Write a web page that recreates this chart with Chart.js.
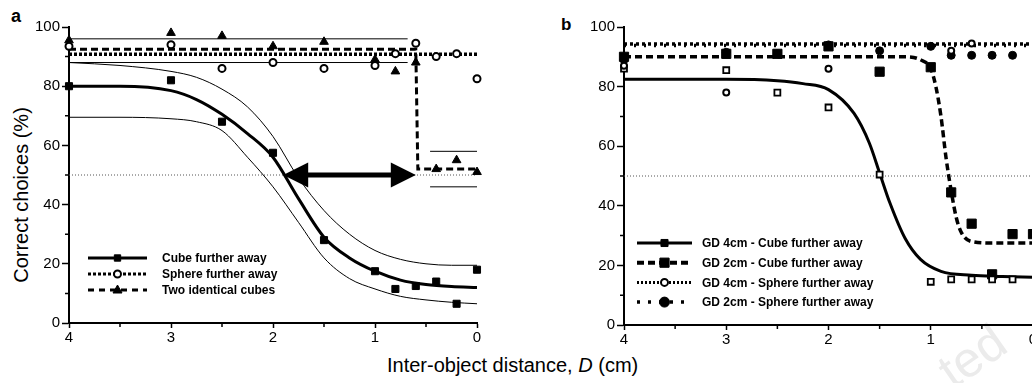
<!DOCTYPE html>
<html>
<head>
<meta charset="utf-8">
<script src="https://cdn.jsdelivr.net/npm/chart.js@4/dist/chart.umd.min.js"></script>
<style>
body { margin: 0; width: 1032px; height: 383px; overflow: hidden; background: #fff; position: relative; font-family: "Liberation Sans", Arial, sans-serif; color: #000; }
#wa { position: absolute; left: 0; top: 0; width: 500px; height: 383px; }
#wb { position: absolute; left: 530px; top: 0; width: 520px; height: 383px; }
.lab { position: absolute; font-weight: bold; line-height: 1; }
#xt { position: absolute; left: 387px; top: 355px; font-size: 20px; line-height: 20px; white-space: nowrap; }
#yt { position: absolute; left: 21px; top: 195px; font-size: 20px; line-height: 20px; white-space: nowrap; transform: translate(-50%, -50%) rotate(-90deg); }
#wm { position: absolute; left: 972px; top: 356px; font-size: 50px; line-height: 50px; color: #ebebeb; white-space: nowrap; transform: translate(-50%, -50%) rotate(-35deg); }
</style>
</head>
<body>
<div id="wm">ted</div>
<div class="lab" style="left:11px;top:7px;font-size:18px">a</div>
<div class="lab" style="left:561px;top:16px;font-size:17px">b</div>
<div id="yt">Correct choices (%)</div>
<div id="xt">Inter-object distance, <i>D</i> (cm)</div>
<div id="wa"><canvas id="chartA"></canvas></div>
<div id="wb"><canvas id="chartB"></canvas></div>
<script>
var FONT = '"Liberation Sans", Arial, sans-serif';

var dTicks = [4, 3, 2, 1, 0];
var dMinor = [3.5, 2.5, 1.5, 0.5];
var yTicks = [0, 20, 40, 60, 80, 100];
var yMinor = [10, 30, 50, 70, 90];
var chanceD = [4, 0];
var chanceY = [50, 50];

// panel a - measured points
var aD = [4, 3, 2.5, 2, 1.5, 1, 0.8, 0.6, 0.4, 0.2, 0];
var cubeY = [80, 82, 68, 57.5, 28, 17.5, 11.5, 12.5, 14, 6.5, 18];
var sphereY = [93.5, 94, 86, 88, 86, 87, 91, 94.5, 90, 91, 82.5];
var identY = [95.5, 98, 97, 93.5, 95, 89, 85, 88, 52, 55, 51];

// panel a - fitted curves and intervals
var cubeFitD = [4, 3.5, 3, 2.75, 2.5, 2.25, 2, 1.75, 1.5, 1.25, 1, 0.75, 0.5, 0.25, 0];
var cubeFitY = [80, 80, 78.5, 75.5, 70.5, 64, 56, 42, 29, 22, 17.5, 14.5, 13, 12.3, 12];
var cubeHiY = [88, 87, 85, 83, 79, 73, 63, 49, 38, 30, 24.5, 21.5, 20, 19.5, 19.5];
var cubeLoY = [69.5, 69.5, 69, 68, 65, 56, 46, 34, 22, 15, 11.5, 9, 7.8, 7, 6.5];
var sphereFitD = [4, 0];
var sphereFitY = [90.8, 90.8];
var identFitD = [4, 0.6, 0.58, 0];
var identFitY = [92.5, 92.5, 52, 52];
var identHiD = [4, 0.68];
var identHiY = [96, 96];
var identLoY = [88, 88];
var identHi2D = [0.46, 0];
var identHi2Y = [58, 58];
var identLo2Y = [46, 46];
var arrowD = [1.9, 0.6];
var arrowY = 50;
var legendA = ['Cube further away', 'Sphere further away', 'Two identical cubes'];

// panel b - measured points
var gd4CubeD = [4, 3, 2.5, 2, 1.5, 1, 0.8, 0.6, 0.4, 0.2];
var gd4CubeY = [86, 85.5, 78, 73, 50.5, 14.5, 15.3, 15.3, 15.3, 15.3];
var gd2CubeD = [4, 3, 2.5, 2, 1.5, 1, 0.8, 0.6, 0.4, 0.2, 0];
var gd2CubeY = [90, 91, 91, 93.5, 85, 86.5, 44.5, 34, 17, 30.5, 30.5];
var gd4SphD = [4, 3, 2, 0.8, 0.6];
var gd4SphY = [87, 78, 86, 92, 94.5];
var gd2SphD = [4, 3, 2.5, 2, 1.5, 1, 0.8, 0.6, 0.4, 0.2];
var gd2SphY = [89, 91.5, 91, 94, 92, 93.5, 90.5, 90.5, 90.5, 90.5];

// panel b - fitted curves
var gd4CubeFitD = [4, 3, 2.5, 2.25, 2, 1.75, 1.6, 1.5, 1.4, 1.25, 1.1, 0.9, 0.6, 0.3, 0];
var gd4CubeFitY = [82.5, 82.5, 82, 81, 79, 71, 61, 51, 41, 29, 22, 18, 16.7, 16.3, 16];
var gd2CubeFitD = [4, 1.25, 1.1, 1, 0.95, 0.9, 0.85, 0.8, 0.75, 0.7, 0.6, 0.4, 0];
var gd2CubeFitY = [90, 90, 89, 86, 80, 70, 56, 45, 36, 31, 28, 27.5, 27.5];
var gd4SphFitD = [4, 0];
var gd4SphFitY = [94.3, 94.3];
var gd2SphFitY = [93.8, 93.8];
var legendB = ['GD 4cm - Cube further away', 'GD 2cm - Cube further away', 'GD 4cm - Sphere further away', 'GD 2cm - Sphere further away'];

function pts(D, Y) {
	return D.map(function (d, i) { return { x: d, y: Y[i] }; });
}

function curve(D, Y, width, dash, smooth, color) {
	return {
		data: pts(D, Y),
		borderColor: color || '#000',
		borderWidth: width,
		borderDash: dash || [],
		pointRadius: 0,
		cubicInterpolationMode: smooth ? 'monotone' : 'default',
		fill: false,
		clip: false
	};
}

function marks(D, Y, style, r, filled, bw) {
	return {
		data: pts(D, Y),
		showLine: false,
		pointStyle: style,
		pointRadius: r,
		pointBackgroundColor: filled ? '#000' : '#fff',
		pointBorderColor: '#000',
		pointBorderWidth: bw || 1,
		clip: false
	};
}

function drawMarker(ctx, m, x, y) {
	ctx.save();
	ctx.fillStyle = m.fill ? '#000' : '#fff';
	ctx.strokeStyle = '#000';
	ctx.lineWidth = m.bw || 1;
	ctx.setLineDash([]);
	ctx.beginPath();
	if (m.style === 'rect') {
		var s = m.r * Math.SQRT1_2;
		ctx.rect(x - s, y - s, 2 * s, 2 * s);
	} else if (m.style === 'triangle') {
		ctx.moveTo(x, y - m.r);
		ctx.lineTo(x + m.r * 0.9, y + m.r * 0.6);
		ctx.lineTo(x - m.r * 0.9, y + m.r * 0.6);
		ctx.closePath();
	} else {
		ctx.arc(x, y, m.r, 0, Math.PI * 2);
	}
	ctx.fill();
	ctx.stroke();
	ctx.restore();
}

var insideLegend = {
	id: 'insideLegend',
	afterDraw: function (chart, args, opts) {
		var ctx = chart.ctx;
		ctx.save();
		ctx.font = 'bold 12px ' + FONT;
		ctx.textBaseline = 'middle';
		opts.items.forEach(function (it, i) {
			var y = opts.top + i * opts.gap;
			ctx.strokeStyle = '#000';
			ctx.lineWidth = it.width;
			ctx.setLineDash(it.dash);
			ctx.beginPath();
			ctx.moveTo(opts.left, y);
			ctx.lineTo(opts.left + opts.len, y);
			ctx.stroke();
			drawMarker(ctx, it.marker, opts.left + opts.len / 2, y);
			ctx.fillStyle = '#000';
			ctx.fillText(opts.labels[i], opts.left + opts.len + opts.pad, y + 1);
		});
		ctx.restore();
	}
};

var minorTicks = {
	id: 'minorTicks',
	afterDraw: function (chart) {
		var ctx = chart.ctx, xs = chart.scales.x, ys = chart.scales.y;
		ctx.save();
		ctx.strokeStyle = '#000';
		ctx.lineWidth = 1.5;
		ctx.beginPath();
		dMinor.forEach(function (d) {
			var px = xs.getPixelForValue(d);
			ctx.moveTo(px, xs.top);
			ctx.lineTo(px, xs.top + 4);
		});
		yMinor.forEach(function (v) {
			var py = ys.getPixelForValue(v);
			ctx.moveTo(ys.right, py);
			ctx.lineTo(ys.right - 4, py);
		});
		ctx.stroke();
		ctx.restore();
	}
};

var arrowPlugin = {
	id: 'arrow',
	afterDatasetsDraw: function (chart) {
		if (!chart.options.plugins.arrow.show) return;
		var xs = chart.scales.x, ys = chart.scales.y, ctx = chart.ctx;
		var x1 = xs.getPixelForValue(arrowD[0]);
		var x2 = xs.getPixelForValue(arrowD[1]);
		var y = ys.getPixelForValue(arrowY);
		var hl = 25, hw = 12.5;
		ctx.save();
		ctx.fillStyle = '#000';
		ctx.strokeStyle = '#000';
		ctx.lineWidth = 5;
		ctx.beginPath();
		ctx.moveTo(x1 + hl - 2, y);
		ctx.lineTo(x2 - hl + 2, y);
		ctx.stroke();
		ctx.beginPath();
		ctx.moveTo(x1, y);
		ctx.lineTo(x1 + hl, y - hw);
		ctx.lineTo(x1 + hl, y + hw);
		ctx.closePath();
		ctx.fill();
		ctx.beginPath();
		ctx.moveTo(x2, y);
		ctx.lineTo(x2 - hl, y - hw);
		ctx.lineTo(x2 - hl, y + hw);
		ctx.closePath();
		ctx.fill();
		ctx.restore();
	}
};

function makeScales(yW, xH) {
	return {
		x: {
			type: 'linear', reverse: true, min: 0, max: 4,
			afterFit: function (s) { s.height = xH; },
			afterBuildTicks: function (s) { s.ticks = dTicks.map(function (v) { return { value: v }; }); },
			border: { display: true, color: '#000', width: 2 },
			grid: { display: true, drawOnChartArea: false, drawTicks: true, tickLength: 5, tickColor: '#000', tickWidth: 1.5 },
			ticks: { color: '#000', font: { family: FONT, size: 15 }, padding: 1, maxRotation: 0, autoSkip: false }
		},
		y: {
			type: 'linear', min: 0, max: 100,
			afterFit: function (s) { s.width = yW; },
			afterBuildTicks: function (s) { s.ticks = yTicks.map(function (v) { return { value: v }; }); },
			border: { display: true, color: '#000', width: 2 },
			grid: { display: true, drawOnChartArea: false, drawTicks: true, tickLength: 7, tickColor: '#000', tickWidth: 1.5 },
			ticks: { color: '#000', font: { family: FONT, size: 15 }, padding: 2 }
		}
	};
}

var chartA = new Chart('chartA', {
	type: 'line',
	data: {
		datasets: [
			marks(aD, identY, 'triangle', 5, true, 1),
			marks(aD, sphereY, 'circle', 3.5, false, 2),
			marks(aD, cubeY, 'rect', 5, true, 1),
			curve(cubeFitD, cubeFitY, 3, [], true),
			curve(cubeFitD, cubeHiY, 1, [], true),
			curve(cubeFitD, cubeLoY, 1, [], true),
			curve(sphereFitD, sphereFitY, 3.5, [3, 2], false),
			curve(identFitD, identFitY, 3, [7, 4], false),
			curve(identHiD, identHiY, 1, [], false),
			curve(identHiD, identLoY, 1, [], false),
			curve(identHi2D, identHi2Y, 1, [], false),
			curve(identHi2D, identLo2Y, 1, [], false),
			curve(chanceD, chanceY, 1, [1, 2], false, '#555')
		]
	},
	options: {
		animation: false,
		responsive: true,
		maintainAspectRatio: false,
		layout: { padding: { left: 0, top: 27, right: 23, bottom: 0 } },
		scales: makeScales(69, 60),
		plugins: {
			legend: { display: false },
			tooltip: { enabled: false },
			arrow: { show: true },
			insideLegend: {
				left: 88, top: 258, gap: 16, len: 59, pad: 15,
				labels: legendA,
				items: [
					{ width: 3, dash: [], marker: { style: 'rect', r: 4.5, fill: true } },
					{ width: 3, dash: [3, 2], marker: { style: 'circle', r: 3.5, fill: false, bw: 2 } },
					{ width: 3, dash: [6, 5], marker: { style: 'triangle', r: 5, fill: true } }
				]
			}
		}
	},
	plugins: [minorTicks, arrowPlugin, insideLegend]
});

var chartB = new Chart('chartB', {
	type: 'line',
	data: {
		datasets: [
			marks(gd4SphD, gd4SphY, 'circle', 3, false, 2),
			marks(gd2SphD, gd2SphY, 'circle', 4, true, 1),
			marks(gd4CubeD, gd4CubeY, 'rect', 4.2, false, 1.8),
			marks(gd2CubeD, gd2CubeY, 'rect', 6.5, true, 1),
			curve(gd4CubeFitD, gd4CubeFitY, 3, [], true),
			curve(gd2CubeFitD, gd2CubeFitY, 3.5, [7, 4], true),
			curve(gd4SphFitD, gd4SphFitY, 3.5, [3, 3], false),
			curve(gd4SphFitD, gd2SphFitY, 3.5, [2, 8], false),
			curve(chanceD, chanceY, 1, [1, 2], false, '#555')
		]
	},
	options: {
		animation: false,
		responsive: true,
		maintainAspectRatio: false,
		layout: { padding: { left: 0, top: 27, right: 17, bottom: 0 } },
		scales: makeScales(94, 58),
		plugins: {
			legend: { display: false },
			tooltip: { enabled: false },
			arrow: { show: false },
			insideLegend: {
				left: 107, top: 243, gap: 19.7, len: 55, pad: 10,
				labels: legendB,
				items: [
					{ width: 3, dash: [], marker: { style: 'rect', r: 5, fill: true } },
					{ width: 4, dash: [7, 4], marker: { style: 'rect', r: 6.5, fill: true } },
					{ width: 3, dash: [2, 2], marker: { style: 'circle', r: 3.5, fill: false, bw: 2 } },
					{ width: 3.5, dash: [3, 8], marker: { style: 'circle', r: 5, fill: true } }
				]
			}
		}
	},
	plugins: [minorTicks, arrowPlugin, insideLegend]
});
</script>
</body>
</html>
